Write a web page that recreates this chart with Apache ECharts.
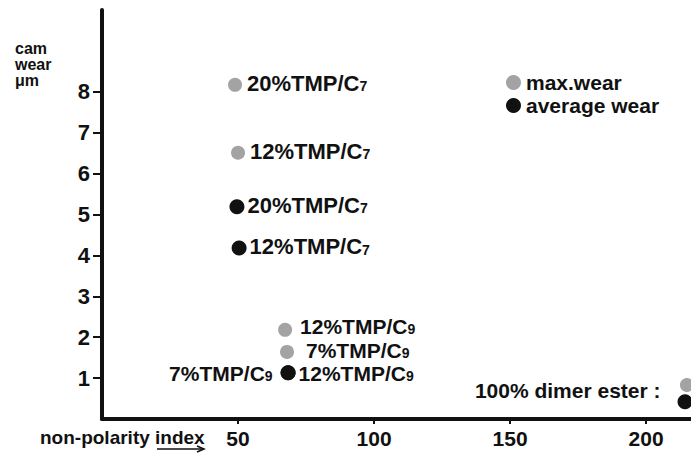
<!DOCTYPE html>
<html><head><meta charset="utf-8">
<script src="https://cdn.jsdelivr.net/npm/echarts@6/dist/echarts.min.js"></script>
<style>html,body{margin:0;padding:0;background:#fff}#c{width:691px;height:453px}</style>
</head><body><div id="c"></div>
<script>
// ---- data ----
const xTicks = [50, 100, 150, 200];
const yTicks = [1, 2, 3, 4, 5, 6, 7, 8];
const maxNames = ['20%TMP/C7', '12%TMP/C7', '12%TMP/C9', '7%TMP/C9', '100% dimer ester'];
const maxX = [48.9, 50.0, 67.3, 68.0, 215.0];
const maxY = [8.17, 6.51, 2.18, 1.64, 0.83];
const avgNames = ['20%TMP/C7', '12%TMP/C7', '12%TMP/C9', '7%TMP/C9', '100% dimer ester'];
const avgX = [49.6, 50.4, 68.4, 68.4, 214.3];
const avgY = [5.19, 4.18, 1.13, 1.13, 0.42];

// ---- styling ----
const FONT = 'Liberation Sans';
const INK = '#111';
const maxLabelOpts = [
  {position: 'right', distance: 5},
  {position: 'right', distance: 5},
  {position: 'right', distance: 8, offset: [0, -2], small: true},
  {position: 'right', distance: 12, small: true},
  {show: false}
];
const avgLabelOpts = [
  {position: 'right', distance: 3},
  {position: 'right', distance: 3},
  {position: 'right', distance: 3, offset: [0, 2], small: true},
  {position: 'left', distance: 8, offset: [0, 2], small: true},
  {position: 'left', distance: 17, offset: [0, -11]}
];
function fmtFor(small) {
  return function (p) {
    const m = p.name.match(/^(.*C)(\d)$/);
    if (m) return small ? '{b|' + m[1] + '}{t|' + m[2] + '}' : '{a|' + m[1] + '}{s|' + m[2] + '}';
    return '{d|' + p.name + ' :}';
  };
}
const rich = {
  a: {fontSize: 22, lineHeight: 19, fontWeight: 'bold', fontFamily: FONT, color: INK, verticalAlign: 'bottom'},
  s: {fontSize: 14, lineHeight: 19, fontWeight: 'bold', fontFamily: FONT, color: INK, verticalAlign: 'bottom', padding: [0, 0, 1, 0]},
  b: {fontSize: 21, lineHeight: 18, fontWeight: 'bold', fontFamily: FONT, color: INK, verticalAlign: 'bottom'},
  t: {fontSize: 14, lineHeight: 18, fontWeight: 'bold', fontFamily: FONT, color: INK, verticalAlign: 'bottom', padding: [0, 0, 1, 0]},
  d: {fontSize: 21, lineHeight: 20, fontWeight: 'bold', fontFamily: FONT, color: INK}
};
function build(names, xs, ys, opts) {
  return names.map((n, i) => {
    const o = Object.assign({}, opts[i]);
    const small = !!o.small; delete o.small;
    return {
      name: n,
      value: [xs[i], ys[i]],
      label: Object.assign({show: true, formatter: fmtFor(small), rich: rich, color: INK, opacity: 1}, o)
    };
  });
}

const chart = echarts.init(document.getElementById('c'), null, {renderer: 'svg'});
chart.setOption({
  animation: false,
  backgroundColor: '#fff',
  grid: {left: 102, right: 0, top: 10, bottom: 34, containLabel: false},
  xAxis: {
    type: 'value', min: 0, max: 216.5,
    axisLine: {lineStyle: {color: INK, width: 4}},
    axisTick: {show: true, customValues: xTicks, length: 5, lineStyle: {color: INK, width: 2}},
    axisLabel: {customValues: xTicks, fontSize: 21, fontWeight: 'bold', fontFamily: FONT, color: INK, margin: 9},
    splitLine: {show: false}
  },
  yAxis: {
    type: 'value', min: 0, max: 10,
    axisLine: {show: true, lineStyle: {color: INK, width: 4}},
    axisTick: {show: true, customValues: yTicks, length: 9, lineStyle: {color: INK, width: 2}},
    axisLabel: {customValues: yTicks, fontSize: 22, fontWeight: 'bold', fontFamily: FONT, color: INK, margin: 12},
    splitLine: {show: false}
  },
  legend: {
    data: ['max.wear', 'average wear'],
    orient: 'vertical', left: 506, top: 72, padding: 0,
    itemGap: 2, itemWidth: 15, itemHeight: 15, itemTextGap: 10,
    icon: 'circle',
    itemStyle: {opacity: 1},
    textStyle: {fontSize: 21, fontWeight: 'bold', fontFamily: FONT, color: INK}
  },
  series: [
    {
      name: 'max.wear', type: 'scatter', symbol: 'circle', symbolSize: 14,
      itemStyle: {color: '#a3a3a3', opacity: 1},
      emphasis: {disabled: true},
      data: build(maxNames, maxX, maxY, maxLabelOpts)
    },
    {
      name: 'average wear', type: 'scatter', symbol: 'circle', symbolSize: 15,
      itemStyle: {color: INK, opacity: 1},
      emphasis: {disabled: true},
      data: build(avgNames, avgX, avgY, avgLabelOpts)
    }
  ],
  graphic: [
    {type: 'text', left: 15, top: 40, style: {text: 'cam\nwear\nμm', font: 'bold 16px "Liberation Sans"', fill: INK, lineHeight: 16}},
    {type: 'text', left: 40, top: 428, style: {text: 'non-polarity index', font: 'bold 19px "Liberation Sans"', fill: INK}},
    {type: 'line', shape: {x1: 157, y1: 449, x2: 203, y2: 449}, style: {stroke: INK, lineWidth: 1.5}},
    {type: 'polyline', shape: {points: [[197, 446], [204, 449], [197, 452]]}, style: {stroke: INK, lineWidth: 1.5, fill: null}}
  ]
});
</script>
</body></html>
